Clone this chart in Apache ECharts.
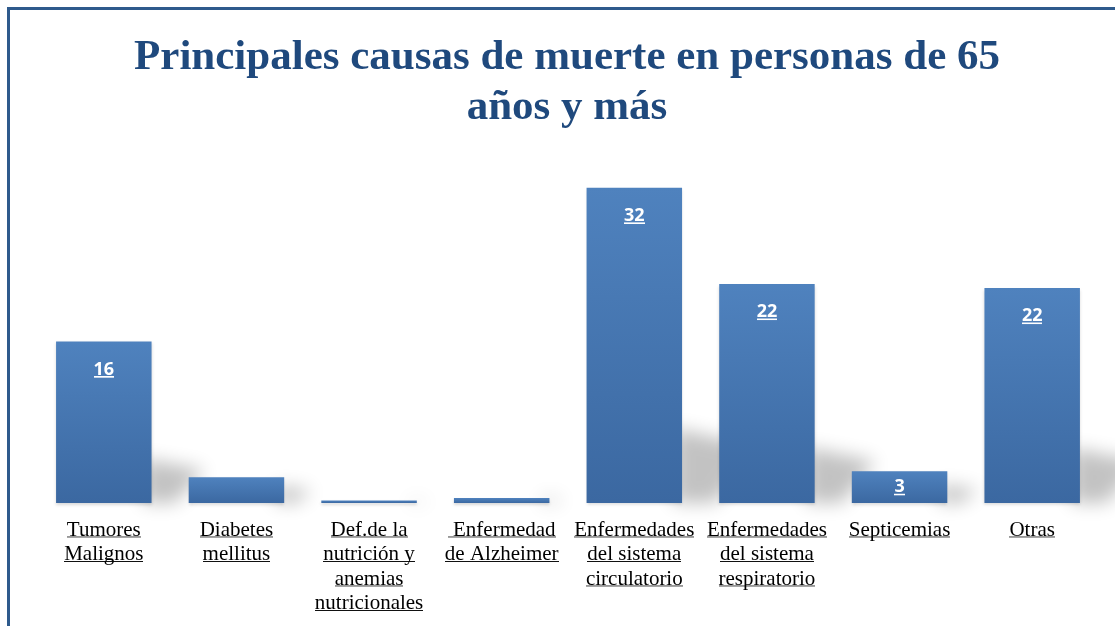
<!DOCTYPE html>
<html>
    <head>
        <meta charset="utf-8">
        <title>Principales causas de muerte</title>
        <script src="https://cdn.jsdelivr.net/npm/echarts@6/dist/echarts.min.js"></script>
        <style type="text/css">
            *{margin: 0}
            body{background: #fff}
        </style>
    </head>
    <body>
        <div id="main" style="width: 1115px;height:626px;"></div>
        <script type="text/javascript">
        // datos (porcentaje)
        var categorias = ['Tumores\nMalignos', 'Diabetes\nmellitus', 'Def.de la\nnutrición y\nanemias\nnutricionales',
            ' Enfermedad\nde Alzheimer', 'Enfermedades\ndel sistema\ncirculatorio',
            'Enfermedades\ndel sistema\nrespiratorio', 'Septicemias', 'Otras'];
        var valores = [16.3, 2.6, 0.25, 0.5, 31.8, 22.1, 3.2, 21.7];
        var conEtiqueta = [true, false, false, false, true, true, true, true];

        // lienzo pequeño para simular el subrayado (fondo de la etiqueta)
        function subrayado(color, alto, fila, grosor) {
            var c = document.createElement('canvas');
            c.width = 4; c.height = alto;
            var ctx = c.getContext('2d');
            ctx.fillStyle = color;
            ctx.fillRect(0, fila, 4, grosor);
            return c;
        }
        var lineaNegra = subrayado('#111', 25, 20, 1);
        var lineaBlanca = subrayado('#fff', 22, 19, 2);

        var degradado = new echarts.graphic.LinearGradient(0, 0, 0, 1, [
            {offset: 0, color: '#4F82BE'},
            {offset: 1, color: '#3B68A1'}
        ]);

        var datos = valores.map(function (v, i) {
            return {
                value: v,
                label: {
                    show: conEtiqueta[i],
                    position: v < 5 ? 'inside' : 'insideTop',
                    distance: 17
                }
            };
        });

        var DESPLAZA = 3000; // el poligono se dibuja fuera y solo se ve su sombra difuminada

        var myChart = echarts.init(document.getElementById('main'));
        myChart.setOption({
            animation: false,
            title: {
                text: 'Principales causas de muerte en personas de 65\naños y más',
                left: 562,
                textAlign: 'center',
                top: 28,
                textStyle: {
                    fontFamily: 'Liberation Serif',
                    fontWeight: 'bold',
                    fontSize: 43,
                    lineHeight: 50,
                    color: '#1F497D'
                }
            },
            graphic: [{
                type: 'rect',
                shape: {x: 8.5, y: 8.5, width: 1200, height: 700},
                style: {fill: 'none', stroke: '#2E5A8C', lineWidth: 3},
                silent: true
            }],
            grid: {left: 37.5, right: 16.5, top: 166, bottom: 123},
            xAxis: {
                type: 'category',
                data: categorias,
                axisLine: {show: false},
                axisTick: {show: false},
                axisLabel: {
                    interval: 0,
                    margin: 15,
                    formatter: function (txt) {
                        return txt.split('\n').map(function (l) {
                            return '{u|' + l + '}';
                        }).join('\n');
                    },
                    rich: {
                        u: {
                            fontFamily: 'Liberation Serif',
                            fontSize: 21,
                            lineHeight: 24.5,
                            color: '#000',
                            backgroundColor: {image: lineaNegra}
                        }
                    }
                }
            },
            yAxis: {
                type: 'value',
                min: 0,
                max: 34,
                show: false,
                splitLine: {show: false}
            },
            series: [{
                // sombra proyectada detras de cada barra
                type: 'custom',
                z: 1,
                silent: true,
                clip: false,
                data: valores.map(function (v, i) { return [i, v]; }),
                renderItem: function (params, api) {
                    var top = api.coord([api.value(0), api.value(1)]);
                    var base = api.coord([api.value(0), 0]);
                    var w = api.size([1, 0])[0] * 0.72;
                    var h = base[1] - top[1];
                    var s = Math.min(h, 12 + h * 0.2);
                    var dx = Math.min(30 + h * 0.14, 12 + h * 0.6);
                    var r = base[0] + w / 2 - DESPLAZA, b = base[1];
                    return {
                        type: 'polygon',
                        shape: {points: [[r - 8, b], [r - 8, b - s], [r + dx, b - s * 0.75], [r + dx * 0.45, b]]},
                        style: {
                            fill: '#000',
                            shadowBlur: 18,
                            shadowOffsetX: DESPLAZA,
                            shadowColor: 'rgba(0,0,0,0.24)'
                        }
                    };
                }
            }, {
                type: 'bar',
                z: 2,
                data: datos,
                barCategoryGap: '28%',
                itemStyle: {
                    color: degradado,
                    shadowColor: 'rgba(0,0,0,0.15)',
                    shadowBlur: 3,
                    shadowOffsetY: 2
                },
                label: {
                    formatter: function (p) {
                        return '{n|' + Math.round(p.value) + '}';
                    },
                    rich: {
                        n: {
                            fontFamily: 'Open Sans',
                            fontWeight: 'bold',
                            fontSize: 18,
                            lineHeight: 22,
                            color: '#fff',
                            backgroundColor: {image: lineaBlanca}
                        }
                    }
                }
            }]
        });
        </script>
    </body>
</html>
